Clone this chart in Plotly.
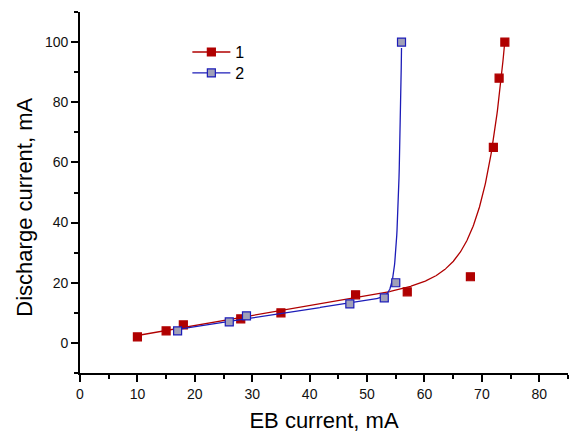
import numpy as np
import plotly.graph_objects as go

# Data
eb1 = [10, 15, 18, 28, 35, 48, 57, 68, 72, 73, 74]
dc1 = [2, 4, 6, 8, 10, 16, 17, 22, 65, 88, 100]
eb2 = [17, 26, 29, 47, 53, 55, 56]
dc2 = [4, 7, 9, 13, 15, 20, 100]
names = ["1", "2"]
# fit settings: number of leading points in the linear regime, growth rate (1/mA)
n_linear = [7, 5]
growth = [0.27, 1.7]

RED = "#B00000"
BLUE = "#1C1CB8"
BLUE_FILL = "#A0A0B8"


def fit_curve(x, y, n_lin, k):
    """Fitted curve y = a + b*x + c*exp(k*(x-xmax)).
    a, b from the linear-regime points, c by least squares on the residuals."""
    x = np.asarray(x, float)
    y = np.asarray(y, float)
    xm = x.max()
    b, a = np.polyfit(x[:n_lin], y[:n_lin], 1)
    r = y - (a + b * x)
    e = np.exp(k * (x - xm))
    c = float(np.sum(e * r) / np.sum(e * e))
    xs = np.linspace(x.min(), xm, 800)
    ys = a + b * xs + c * np.exp(k * (xs - xm))
    return xs, ys


fig = go.Figure()
series = [(eb1, dc1, n_linear[0], growth[0], RED, RED, names[0], "legend"),
          (eb2, dc2, n_linear[1], growth[1], BLUE, BLUE_FILL, names[1], "legend2")]
for x, y, nl, k, col, fill, nm, lg in series:
    xs, ys = fit_curve(x, y, nl, k)
    fig.add_trace(go.Scatter(x=xs, y=ys, mode="lines",
                             line=dict(color=col, width=1.3),
                             showlegend=False, hoverinfo="skip"))
    fig.add_trace(go.Scatter(x=x, y=y, mode="markers",
                             marker=dict(symbol="square", size=8, color=fill,
                                         line=dict(color=col, width=1.2)),
                             showlegend=False))
    fig.add_trace(go.Scatter(x=[None], y=[None], mode="lines+markers", name=nm,
                             legend=lg,
                             line=dict(color=col, width=1.3),
                             marker=dict(symbol="square", size=8, color=fill,
                                         line=dict(color=col, width=1.2))))

FONT = "Liberation Sans, Arial"
axis_common = dict(
    showline=True, linecolor="black", linewidth=1.6,
    ticks="outside", ticklen=7, tickwidth=1.6, tickcolor="black",
    showgrid=False, zeroline=False, mirror=False,
    tickfont=dict(family=FONT, size=14, color="#111111"),
    title_font=dict(family=FONT, size=22, color="black"),
)

legend_common = dict(xanchor="left", yanchor="top", bgcolor="rgba(0,0,0,0)",
                     font=dict(family=FONT, size=16, color="black"),
                     tracegroupgap=0, itemwidth=38)

fig.update_layout(
    width=569, height=433,
    margin=dict(l=80, r=1, t=12, b=60),
    paper_bgcolor="white", plot_bgcolor="white",
    xaxis=dict(range=[0, 85], tickvals=[0, 10, 20, 30, 40, 50, 60, 70, 80],
               minor=dict(ticks="outside", ticklen=4, tickwidth=1.6,
                          tickcolor="black", dtick=5, tick0=0),
               title=dict(text="EB current, mA", standoff=14),
               **axis_common),
    yaxis=dict(range=[-10, 110], tickvals=[0, 20, 40, 60, 80, 100],
               minor=dict(ticks="outside", ticklen=4, tickwidth=1.6,
                          tickcolor="black", dtick=10, tick0=0),
               **axis_common),
    legend=dict(x=0.22, y=0.936, **legend_common),
    legend2=dict(x=0.22, y=0.878, **legend_common),
    showlegend=True,
    annotations=[dict(text="Discharge current, mA", textangle=-90,
                      xref="paper", yref="paper", x=-0.1127, y=0.458,
                      xanchor="center", yanchor="middle", showarrow=False,
                      font=dict(family=FONT, size=22, color="black"))],
)

fig.write_html("out.html")
